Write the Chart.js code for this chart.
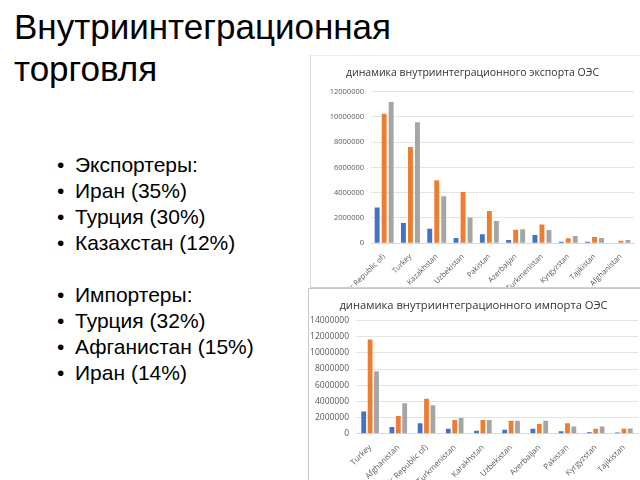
<!DOCTYPE html>
<html>
<head>
<meta charset="utf-8">
<script src="https://cdn.jsdelivr.net/npm/chart.js@4/dist/chart.umd.min.js"></script>
<style>
  html, body { margin: 0; padding: 0; background: #fff; }
  body { width: 640px; height: 480px; position: relative; overflow: hidden; font-family: "Liberation Sans", Arial, sans-serif; }
  #title { position: absolute; left: 14px; top: 6px; font-size: 35px; line-height: 42px; color: #000; }
  #bullets { position: absolute; left: 57px; top: 152px; font-size: 21px; line-height: 26px; color: #000; margin: 0; padding: 0; list-style: none; }
  #bullets li { position: relative; padding-left: 18px; height: 26px; }
  #bullets li.b::before { content: "•"; position: absolute; left: 0; }
  .box { position: absolute; overflow: hidden; background: #fff; }
  #expBox { left: 310px; top: 55px; width: 340px; height: 231px; border-left: 1px solid #d9d9d9; border-top: 1px solid #eeeeee; border-bottom: 1px solid #d0d0d0; }
  #impBox { left: 308px; top: 288px; width: 340px; height: 200px; border-left: 1px solid #c8c8c8; border-top: 1px solid #c8c8c8; }
  .box canvas { position: absolute; left: 0; top: 0; }
</style>
</head>
<body>
<div id="title">Внутриинтеграционная<br>торговля</div>
<ul id="bullets">
  <li class="b">Экспортеры:</li>
  <li class="b">Иран (35%)</li>
  <li class="b">Турция (30%)</li>
  <li class="b">Казахстан (12%)</li>
  <li></li>
  <li class="b">Импортеры:</li>
  <li class="b">Турция (32%)</li>
  <li class="b">Афганистан (15%)</li>
  <li class="b">Иран (14%)</li>
</ul>
<div class="box" id="expBox"><canvas id="expChart" width="330" height="264"></canvas></div>
<div class="box" id="impBox"><canvas id="impChart" width="332" height="226"></canvas></div>
<script>
// export chart data
const expLabels = ["Iran (Islamic Republic of)", "Turkey", "Kazakhstan", "Uzbekistan", "Pakistan",
    "Azerbaijan", "Turkmenistan", "Kyrgyzstan", "Tajikistan", "Afghanistan"];
const expBlue = [2820000, 1600000, 1140000, 410000, 720000, 250000, 650000, 120000, 110000, 40000];
const expOrange = [10240000, 7620000, 4980000, 4060000, 2550000, 1060000, 1490000, 390000, 500000, 190000];
const expGray = [11180000, 9580000, 3720000, 2040000, 1760000, 1110000, 1050000, 580000, 410000, 250000];
const expTicks = [0, 2000000, 4000000, 6000000, 8000000, 10000000, 12000000];

// import chart data
const impLabels = ["Turkey", "Afghanistan", "Iran (Islamic Republic of)", "Turkmenistan", "Karakhstan",
    "Uzbekistan", "Azerbaijan", "Pakistan", "Kyrgyzstan", "Tajikistan"];
const impBlue = [2740000, 830000, 1290000, 620000, 370000, 500000, 620000, 330000, 200000, 170000];
const impOrange = [11640000, 2200000, 4320000, 1700000, 1700000, 1620000, 1200000, 1290000, 620000, 620000];
const impGray = [7730000, 3780000, 3530000, 1950000, 1700000, 1620000, 1620000, 910000, 910000, 660000];
const impTicks = [0, 2000000, 4000000, 6000000, 8000000, 10000000, 12000000, 14000000];

const colors = ['#4472C4', '#ED7D31', '#A5A5A5'];

function makeChart(id, labels, series, ticks, opts) {
    const ctx = document.getElementById(id).getContext('2d');
    return new Chart(ctx, {
        type: 'bar',
        data: {
            labels: labels,
            datasets: series.map(function (s, i) {
                return {
                    data: s,
                    backgroundColor: colors[i],
                    barPercentage: opts.barPct,
                    categoryPercentage: opts.catPct
                };
            })
        },
        options: {
            responsive: false,
            animation: false,
            layout: { padding: opts.padding },
            plugins: {
                legend: { display: false },
                tooltip: { enabled: false },
                title: {
                    display: true,
                    text: opts.title,
                    color: '#333333',
                    font: { family: 'Open Sans', size: opts.titleSize, weight: 'normal' },
                    padding: opts.titlePad
                }
            },
            scales: {
                x: {
                    grid: { display: false },
                    border: { color: '#d9d9d9' },
                    ticks: {
                        color: '#595959',
                        font: { family: 'Open Sans', size: opts.xSize },
                        minRotation: 45,
                        maxRotation: 45,
                        autoSkip: false,
                        padding: 1
                    }
                },
                y: {
                    min: 0,
                    max: ticks[ticks.length - 1],
                    afterBuildTicks: function (axis) {
                        axis.ticks = ticks.map(function (v) { return { value: v }; });
                    },
                    afterFit: function (axis) { axis.width = opts.yWidth; },
                    grid: { color: '#e4e4e4', drawTicks: false },
                    border: { display: false },
                    ticks: {
                        color: '#595959',
                        font: { family: 'Open Sans', size: opts.ySize },
                        padding: 7,
                        callback: function (v) { return String(v); }
                    }
                }
            }
        }
    });
}

makeChart('expChart', expLabels, [expBlue, expOrange, expGray], expTicks, {
    title: 'динамика внутриинтеграционного экспорта ОЭС',
    titleSize: 10.5, titlePad: { top: 11, bottom: 12 },
    xSize: 7.5, ySize: 7.5, yWidth: 60,
    barPct: 0.7, catPct: 0.8,
    padding: { left: 0, right: 7, top: 0, bottom: 0 }
});

makeChart('impChart', impLabels, [impBlue, impOrange, impGray], impTicks, {
    title: 'динамика внутриинтеграционного импорта ОЭС',
    titleSize: 11.2, titlePad: { top: 10, bottom: 8 },
    xSize: 8, ySize: 8.5, yWidth: 47,
    barPct: 0.75, catPct: 0.68,
    padding: { left: 0, right: 3, top: 0, bottom: 0 }
});
</script>
</body>
</html>
